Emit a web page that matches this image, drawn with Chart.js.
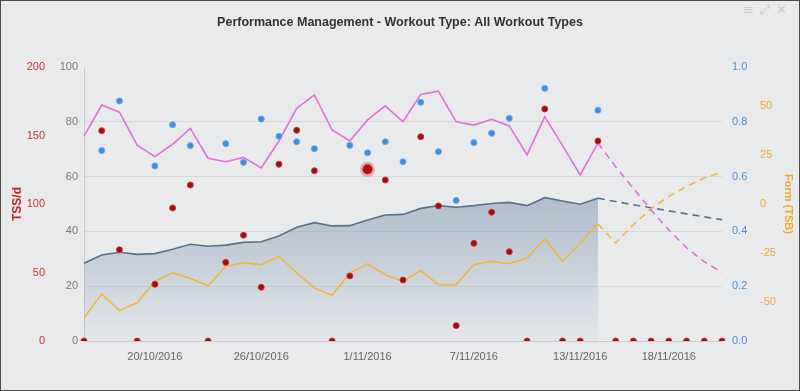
<!DOCTYPE html>
<html>
<head>
<meta charset="utf-8">
<script src="https://cdn.jsdelivr.net/npm/chart.js@4"></script>
<style>
  html, body { margin: 0; padding: 0; background: #e9eaec; }
  #frame {
    position: relative;
    width: 800px;
    height: 391px;
    box-sizing: border-box;
    border: 1px solid #4a4a4a;
    background: #e9eaec;
    overflow: hidden;
  }
  #icons {
    position: absolute;
    top: 1px;
    right: 6px;
    font-family: "DejaVu Sans", sans-serif;
    font-size: 13px;
    color: #c9cacc;
    letter-spacing: 6px;
  }
</style>
</head>
<body>
<div id="frame">
  <canvas id="pmChart" width="798" height="389"></canvas>
  <div id="icons">≡⤢✕</div>
</div>
<script>
// dates shown on the x axis (one point per day)
const dates = [
  "16/10/2016", "17/10/2016", "18/10/2016", "19/10/2016", "20/10/2016", "21/10/2016",
  "22/10/2016", "23/10/2016", "24/10/2016", "25/10/2016", "26/10/2016", "27/10/2016",
  "28/10/2016", "29/10/2016", "30/10/2016", "31/10/2016", "1/11/2016", "2/11/2016",
  "3/11/2016", "4/11/2016", "5/11/2016", "6/11/2016", "7/11/2016", "8/11/2016",
  "9/11/2016", "10/11/2016", "11/11/2016", "12/11/2016", "13/11/2016", "14/11/2016",
  "15/11/2016", "16/11/2016", "17/11/2016", "18/11/2016", "19/11/2016", "20/11/2016",
  "21/11/2016",
];
const tickDates = ["20/10/2016", "26/10/2016", "1/11/2016", "7/11/2016", "13/11/2016", "18/11/2016"];

// fatigue (pink), real values then projection
const atlActual = [74.8, 86.1, 83.5, 71.5, 67.3, 71.8, 77.6, 66.7, 65.4, 67.0, 63.2, 73.0, 84.9, 89.8, 77.0,
  73.0, 80.7, 85.8, 80.0, 90.0, 91.2, 80.0, 78.8, 80.9, 78.5, 67.9, 81.9, 71.3, 60.6, 72.2];
const atlForecast = [63.6, 55.7, 47.8, 40.5, 34.1, 28.9, 25.1];

// fitness (dark blue with area)
const ctlActual = [28.4, 31.4, 32.4, 31.6, 31.9, 33.5, 35.3, 34.6, 35.0, 36.0, 36.2, 38.3, 41.5, 43.2, 42.0,
  42.1, 44.2, 46.0, 46.2, 48.4, 49.4, 48.8, 49.4, 50.2, 50.6, 49.4, 52.3, 51.1, 49.9, 52.1];
const ctlForecast = [50.9, 49.7, 48.6, 47.5, 46.4, 45.3, 44.3];

// form (orange, right axis)
const tsbActual = [-58.2, -45.9, -54.4, -50.5, -39.5, -35.2, -38.1, -41.8, -31.8, -30.1, -31.0, -26.7, -35.2,
  -42.9, -46.6, -35.2, -30.6, -36.1, -39.5, -34.0, -41.2, -41.2, -31.0, -29.3, -30.5, -27.6, -17.9, -29.3,
  -19.9, -10.2];
const tsbForecast = [-19.9, -10.6, -2.4, 3.9, 9.0, 13.3, 16.3];

// TSS per day (red dots)
const tssDaily = [0, 153.5, 66.6, 0, 41.4, 97.1, 113.9, 0, 57.4, 77.2, 39.2, 129, 153.8, 124.3, 0, 47.5, 125.3,
  117.5, 44.5, 149.1, 98.6, 11.2, 71.3, 94, 65.2, 0, 169.4, 0, 0, 146, 0, 0, 0, 0, 0, 0, 0];

// intensity factor (blue dots)
const intensity = [null, 0.695, 0.876, null, 0.639, 0.789, 0.713, null, 0.72, 0.652, 0.81, 0.747, 0.727, 0.702,
  null, 0.714, 0.687, 0.727, 0.654, 0.871, 0.691, 0.513, 0.724, 0.758, 0.813, null, 0.922, null, null, 0.842];

const highlightIndex = 16; // point shown in hover state

// helpers to pad series with nulls
function padEnd(arr) {
  return arr.concat(new Array(dates.length - arr.length).fill(null));
}
function forecastSeries(actual, forecast) {
  const out = new Array(actual.length - 1).fill(null);
  out.push(actual[actual.length - 1]);
  return out.concat(forecast);
}

Chart.defaults.font.family = "'Liberation Sans', Arial, sans-serif";
Chart.defaults.font.size = 11;

const pink = "#e36fd9";
const orange = "#f0b63e";
const slate = "#57728d";
const red = "#a30c0c";
const blue = "#3f8fe0";

function areaGradient(ctx) {
  const chart = ctx.chart;
  const area = chart.chartArea;
  if (!area) return "rgba(110,140,170,0.3)";
  const g = chart.ctx.createLinearGradient(0, area.top + (area.bottom - area.top) * 0.45, 0, area.bottom);
  g.addColorStop(0, "rgba(100,130,162,0.45)");
  g.addColorStop(1, "rgba(100,130,162,0.03)");
  return g;
}

const config = {
  type: "line",
  data: {
    labels: dates,
    datasets: [
      {
        label: "TSS/d",
        data: tssDaily,
        yAxisID: "yTss",
        showLine: false,
        order: 0,
        backgroundColor: red,
        borderColor: (c) => (c.dataIndex === highlightIndex ? "rgba(210,40,40,0.33)" : "#c23b3b"),
        pointRadius: (c) => (c.dataIndex === highlightIndex ? 5 : 3),
        pointBorderWidth: (c) => (c.dataIndex === highlightIndex ? 5 : 1),
      },
      {
        label: "Intensity",
        data: padEnd(intensity),
        yAxisID: "yIf",
        showLine: false,
        order: 0,
        backgroundColor: blue,
        borderColor: "#62a5ea",
        pointRadius: 3,
        pointBorderWidth: 1,
      },
      {
        label: "Fatigue",
        data: padEnd(atlActual),
        yAxisID: "y",
        order: 1,
        borderColor: pink,
        borderWidth: 1.6,
        pointRadius: 0,
      },
      {
        label: "Fatigue (projected)",
        data: forecastSeries(atlActual, atlForecast),
        yAxisID: "y",
        order: 1,
        borderColor: pink,
        borderWidth: 1.6,
        borderDash: [7, 5],
        pointRadius: 0,
      },
      {
        label: "Form",
        data: padEnd(tsbActual),
        yAxisID: "yForm",
        order: 1,
        borderColor: orange,
        borderWidth: 1.6,
        pointRadius: 0,
      },
      {
        label: "Form (projected)",
        data: forecastSeries(tsbActual, tsbForecast),
        yAxisID: "yForm",
        order: 1,
        borderColor: orange,
        borderWidth: 1.6,
        borderDash: [7, 5],
        pointRadius: 0,
      },
      {
        label: "Fitness",
        data: padEnd(ctlActual),
        yAxisID: "y",
        order: 2,
        borderColor: slate,
        borderWidth: 1.6,
        pointRadius: 0,
        fill: "origin",
        backgroundColor: areaGradient,
      },
      {
        label: "Fitness (projected)",
        data: forecastSeries(ctlActual, ctlForecast),
        yAxisID: "y",
        order: 2,
        borderColor: slate,
        borderWidth: 1.6,
        borderDash: [7, 5],
        pointRadius: 0,
      },
    ],
  },
  options: {
    responsive: false,
    animation: false,
    spanGaps: false,
    layout: { padding: { top: 0, bottom: 0, left: 0, right: 0 } },
    plugins: {
      legend: { display: false },
      tooltip: { enabled: false },
      title: {
        display: true,
        text: "Performance Management - Workout Type: All Workout Types",
        color: "#333333",
        font: { size: 12.5, weight: "bold" },
        padding: { top: 14, bottom: 37 },
      },
    },
    scales: {
      x: {
        type: "category",
        offset: false,
        grid: { display: false, drawTicks: false },
        border: { display: true, color: "#c8c9cb" },
        ticks: {
          autoSkip: false,
          maxRotation: 0,
          padding: 9,
          color: "#666666",
          callback: function (value, index) {
            const d = dates[index];
            return tickDates.includes(d) ? d : "";
          },
        },
        afterFit: (scale) => { scale.height = 49; },
      },
      y: {
        position: "left",
        weight: 0,
        min: 0,
        max: 100,
        grid: {
          drawTicks: false,
          color: (c) => (c.tick && (c.tick.value === 0 || c.tick.value === 100) ? "rgba(0,0,0,0)" : "#d7d8da"),
        },
        border: { display: true, color: "#c8c9cb" },
        ticks: { stepSize: 20, padding: 6, color: "#7a7a7a" },
        afterFit: (scale) => { scale.width = 33; },
      },
      yTss: {
        position: "left",
        weight: 1,
        min: 0,
        max: 200,
        grid: { display: false, drawTicks: false },
        border: { display: false },
        ticks: { stepSize: 50, padding: 6, color: "#c0392b" },
        title: {
          display: true,
          text: "TSS/d",
          color: "#c0282d",
          font: { size: 12, weight: "bold" },
          padding: { top: 9, bottom: 6 },
        },
        afterFit: (scale) => { scale.width = 50; },
      },
      yIf: {
        position: "right",
        weight: 0,
        min: 0,
        max: 1,
        grid: { display: false, drawTicks: false },
        border: { display: false },
        ticks: {
          stepSize: 0.2,
          padding: 10,
          color: "#4a8fd8",
          callback: (v) => v.toFixed(1),
        },
        afterFit: (scale) => { scale.width = 34; },
      },
      yForm: {
        position: "right",
        weight: 1,
        min: -70,
        max: 70,
        grid: { display: false, drawTicks: false },
        border: { display: false },
        afterBuildTicks: (scale) => {
          scale.ticks = [-50, -25, 0, 25, 50].map((v) => ({ value: v }));
        },
        ticks: { padding: 4, color: "#f0a830" },
        title: {
          display: true,
          text: "Form (TSB)",
          color: "#f0a830",
          font: { size: 11, weight: "bold" },
          padding: { top: 4, bottom: 4 },
        },
        afterFit: (scale) => { scale.width = 43; },
      },
    },
  },
};

const pmChart = new Chart(document.getElementById("pmChart"), config);
</script>
</body>
</html>
